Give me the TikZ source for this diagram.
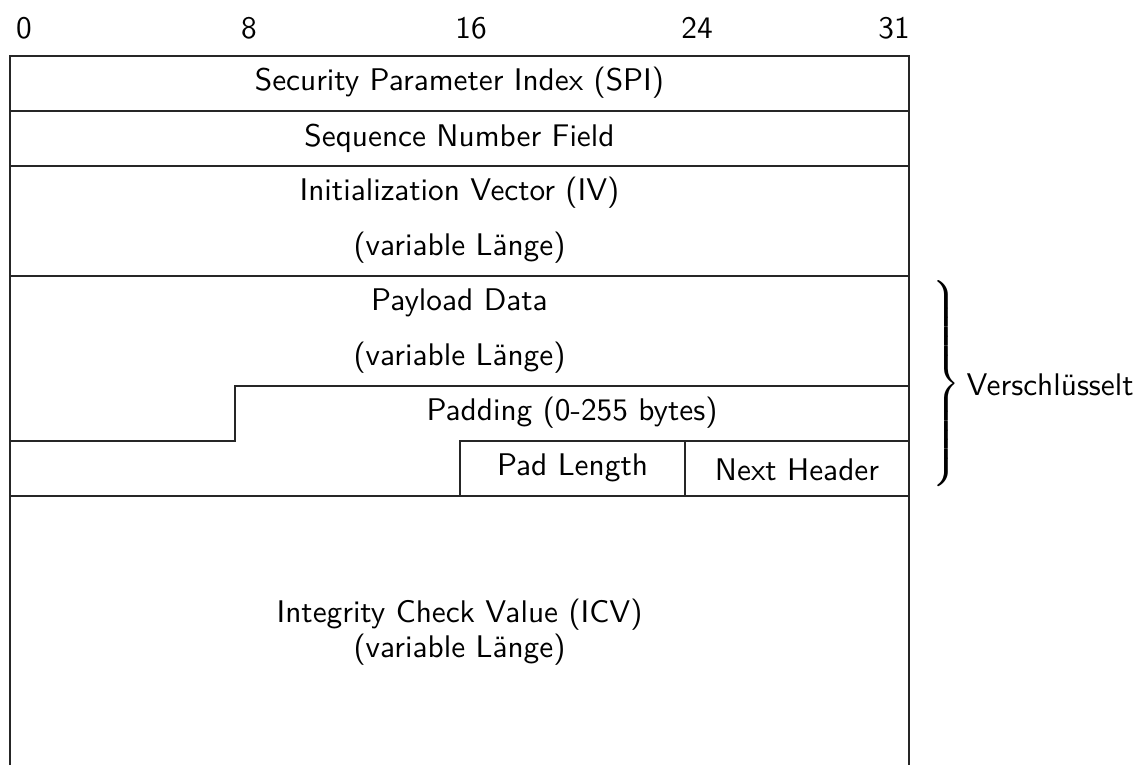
\documentclass[tikz,border=0pt]{standalone}
\usepackage{fontspec}
\begin{document}
\begin{tikzpicture}[x=1pt,y=-1pt,
  lbl/.style={font=\sffamily\fontsize{10}{11.2}\selectfont, inner sep=0pt, scale=3.13},
  frame/.style={line width=1.2pt, black!85}]
\useasboundingbox (0,0) rectangle (1134,765);
% bit numbers above the header
\node[lbl] (b0)  at (24,28)  {0};
\node[lbl] (b8)  at (249,28) {8};
\node[lbl] (b16) at (471,28) {16};
\node[lbl] (b24) at (697,28) {24};
\node[lbl] (b31) at (894,28) {31};
% outer frame and full-width rows
\draw[frame] (10,765) -- (10,56) -- (909,56) -- (909,765);
\draw[frame] (10,111) -- (909,111);
\draw[frame] (10,166) -- (909,166);
\draw[frame] (10,276) -- (909,276);
\draw[frame] (10,496) -- (909,496);
% padding / trailer steps
\draw[frame] (10,441) -- (235,441) -- (235,386) -- (909,386);
\draw[frame] (460,496) -- (460,441) -- (909,441);
\draw[frame] (685,441) -- (685,496);
% field labels
\node[lbl] (spi)  at (459.5,83)  {Security Parameter Index (SPI)};
\node[lbl] (seq)  at (459.5,138) {Sequence Number Field};
\node[lbl] (iv)   at (459.5,193) {Initialization Vector (IV)};
\node[lbl] (ivl)  at (459.5,248) {(variable Länge)};
\node[lbl] (pay)  at (459.5,303) {Payload Data};
\node[lbl] (payl) at (459.5,358) {(variable Länge)};
\node[lbl] (pad)  at (572,413)   {Padding (0-255 bytes)};
\node[lbl] (padl) at (572.5,468) {Pad Length};
\node[lbl] (nh)   at (797,470)   {Next Header};
\node[lbl, align=center] (icv) at (459.5,632) {Integrity Check Value (ICV)\\(variable Länge)};
% encrypted part
\node[lbl] (brace) at (945,387) {$\left.\vrule height 32.7pt depth 32.7pt width 0pt\right\}$};
\node[lbl, anchor=west] (enc) at (966,385) {Verschlüsselt};
\end{tikzpicture}
\end{document}
